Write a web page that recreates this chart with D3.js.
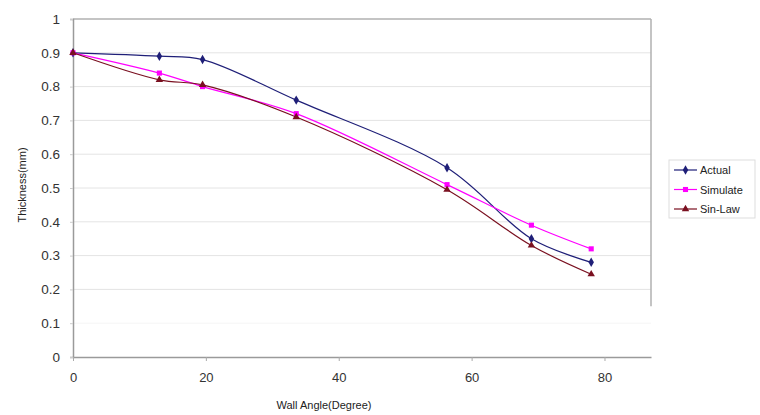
<!DOCTYPE html>
<html><head><meta charset="utf-8">
<script src="https://cdn.jsdelivr.net/npm/d3@7"></script>
<style>body{margin:0;background:#fff}svg{display:block}text{font-family:"Liberation Sans",Arial,sans-serif}</style>
</head><body><svg id="c" width="760" height="415"></svg>
<script>
const angles = [0, 13, 19.5, 33.6, 56.3, 69, 78];
const actual = [0.90, 0.89, 0.88, 0.76, 0.56, 0.35, 0.28];
const simulate = [0.90, 0.84, 0.80, 0.72, 0.51, 0.39, 0.32];
const sinLaw = [0.90, 0.82, 0.805, 0.71, 0.495, 0.33, 0.245];
const seriesNames = ["Actual", "Simulate", "Sin-Law"];
const seriesColors = ["#1f1f78", "#ff00ff", "#7a1020"];
const yTicks = [0, 0.1, 0.2, 0.3, 0.4, 0.5, 0.6, 0.7, 0.8, 0.9, 1];
const xTicks = [0, 20, 40, 60, 80];

const svg = d3.select("#c");
const L = 73, R = 651, T = 19, B = 357;
const x = d3.scaleLinear().domain([0, 87]).range([L, R]);
const y = d3.scaleLinear().domain([0, 1]).range([B, T]);

// gridlines
svg.append("g").selectAll("line").data(yTicks.filter(d => d > 0)).join("line")
  .attr("x1", L).attr("x2", R).attr("y1", d => y(d)).attr("y2", d => y(d))
  .attr("stroke", d => d === 1 ? "#b0b0b0" : (d < 0.15 ? "#f5f5f5" : "#e4e4e4"))
  .attr("stroke-width", d => d === 1 ? 1.5 : 1);
// right border (partial)
svg.append("line").attr("x1", R).attr("x2", R).attr("y1", T).attr("y2", y(0.15))
  .attr("stroke", "#b0b0b0").attr("stroke-width", 1.5);

// axes
const yAxis = d3.axisLeft(y).tickValues(yTicks).tickSize(3).tickFormat(d => d3.format("")(+d.toFixed(1)));
const gy = svg.append("g").attr("transform", `translate(${L},0)`).call(yAxis);
gy.select(".domain").attr("stroke", "#9a9a9a").attr("stroke-width", 1.5);
gy.selectAll(".tick line").attr("stroke", "#ccc");
gy.selectAll("text").attr("font-size", 13.5).attr("fill", "#333").attr("dx", -7);

const xAxis = d3.axisBottom(x).tickValues(xTicks).tickSize(4).tickSizeOuter(0);
const gx = svg.append("g").attr("transform", `translate(0,${B})`).call(xAxis);
gx.select(".domain").attr("stroke", "#9a9a9a").attr("stroke-width", 1.5);
gx.selectAll(".tick line").attr("stroke", "#aaa");
gx.selectAll("text").attr("font-size", 13).attr("fill", "#333").attr("dy", "1.4em");

// titles
svg.append("text").attr("x", 324).attr("y", 409).attr("text-anchor", "middle")
  .attr("font-size", 11).attr("fill", "#222").text("Wall Angle(Degree)");
svg.append("text").attr("transform", "translate(26,185) rotate(-90)").attr("text-anchor", "middle")
  .attr("font-size", 11).attr("fill", "#222").text("Thickness(mm)");

// series
const allSeries = [actual, simulate, sinLaw];
const line = d3.line().x((d, i) => x(angles[i])).y(d => y(d)).curve(d3.curveCatmullRom.alpha(0.5));
const symbols = [d3.symbolDiamond, d3.symbolSquare, d3.symbolTriangle];
const symSize = [26, 26, 24];
allSeries.forEach((vals, k) => {
  svg.append("path").datum(vals).attr("d", line).attr("fill", "none")
    .attr("stroke", seriesColors[k]).attr("stroke-width", 1.2);
});
allSeries.forEach((vals, k) => {
  svg.append("g").selectAll("path").data(vals).join("path")
    .attr("transform", (d, i) => `translate(${x(angles[i])},${y(d)})`)
    .attr("d", d3.symbol().type(symbols[k]).size(symSize[k]))
    .attr("fill", seriesColors[k]);
});

// legend
const lg = svg.append("g").attr("transform", "translate(669,160)");
lg.append("rect").attr("width", 86).attr("height", 58).attr("fill", "#fff").attr("stroke", "#ddd");
seriesNames.forEach((n, k) => {
  const yy = 10 + k * 19.5;
  lg.append("line").attr("x1", 5).attr("x2", 28).attr("y1", yy).attr("y2", yy)
    .attr("stroke", seriesColors[k]).attr("stroke-width", 1.2);
  lg.append("path").attr("transform", `translate(16.5,${yy})`)
    .attr("d", d3.symbol().type(symbols[k]).size(symSize[k])).attr("fill", seriesColors[k]);
  lg.append("text").attr("x", 31).attr("y", yy + 4).attr("font-size", 11).attr("fill", "#222").text(n);
});
</script></body></html>
